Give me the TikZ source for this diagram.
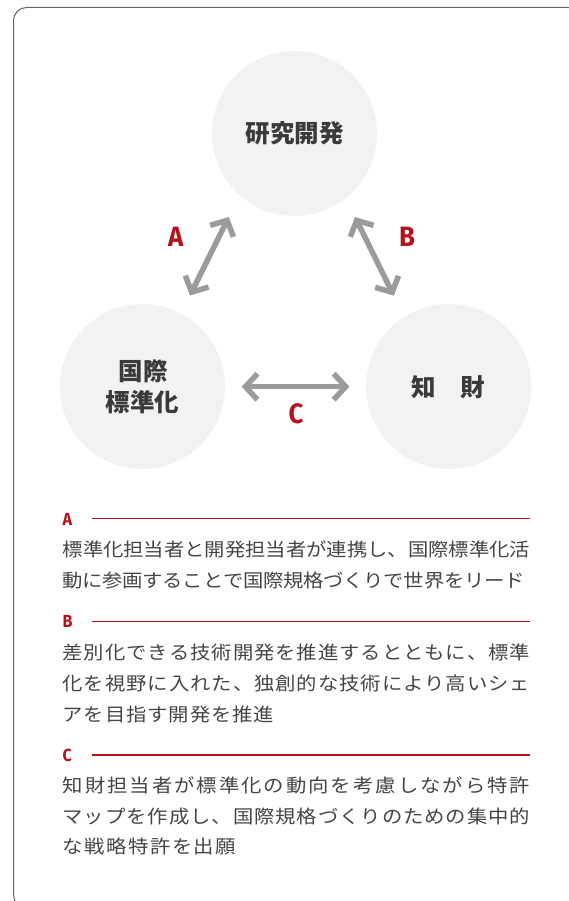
\documentclass[tikz,border=0pt]{standalone}
\usepackage{fontspec}
\usetikzlibrary{arrows.meta}
\newfontfamily\bodyfont{Noto Sans CJK JP}[FakeStretch=1.1]
\newfontfamily\circfont{Noto Sans CJK JP}
\newfontfamily\latfont{Fira Sans}[FakeStretch=0.92]
\definecolor{txtc}{HTML}{454545}
\definecolor{circtxt}{HTML}{3A3A3A}
\definecolor{fillc}{HTML}{F1F2F2}
\definecolor{arrc}{HTML}{9B9B9B}
\definecolor{accred}{HTML}{B4121D}
\definecolor{framec}{HTML}{666666}
\ExplSyntaxOn
\NewDocumentCommand\jline{m m}
  {
    \hbox_to_wd:nn {#1}
      {
        \skip_horizontal:n {0pt~plus~-1fil}
        \tl_map_inline:nn {#2} { \skip_horizontal:n {0pt~plus~1fil~minus~1pt} ##1 }
      }
  }
\ExplSyntaxOff
\begin{document}
\begin{tikzpicture}[x=1pt,y=-1pt,
  framebox/.style={draw=framec,line width=1pt,rounded corners=13pt},
  circ/.style={circle,fill=fillc,draw=none,minimum size=165pt,inner sep=0pt},
  ctext/.style={font=\circfont\bfseries\fontsize{24.5}{28}\selectfont,text=circtxt,inner sep=0pt,anchor=base},
  biglab/.style={font=\latfont\bfseries\fontsize{28}{30}\selectfont,text=accred,inner sep=0pt,anchor=base},
  smalllab/.style={font=\latfont\bfseries\fontsize{17.5}{19}\selectfont,text=accred,inner sep=0pt,anchor=base west},
  rule/.style={draw=accred,line width=1.2pt},
  bodyline/.style={font=\bodyfont\fontsize{18.5}{21}\selectfont,text=txtc,inner sep=0pt,anchor=base west},
  biarrow/.style={draw=arrc,line width=5.5pt,
    {Straight Barb[length=12pt,width=26pt]}-{Straight Barb[length=12pt,width=26pt]}}
]
\useasboundingbox (0,0) rectangle (569,901);
\clip (0,0) rectangle (569,901);
\draw[framebox] (13.5,7.5) rectangle (581,908);

% circles
\node[circ] (rd) at (294.5,133.5) {};
\node[circ] (std) at (142.4,386.5) {};
\node[circ] (ip) at (448.7,386.5) {};

\node[ctext] (rdt) at (294.5,143) {研究開発};
\node[ctext] (stdt1) at (143.4,380) {国際};
\node[ctext] (stdt2) at (142.4,411.5) {標準化};
\node[ctext] (ipt) at (448.5,396) {知　財};

% arrows
\coordinate (a1) at (190,295.5);
\coordinate (a2) at (228.8,217);
\coordinate (b1) at (355,217);
\coordinate (b2) at (393.8,295.7);
\coordinate (c1) at (241.7,386.7);
\coordinate (c2) at (349.4,386.7);
\draw[biarrow] (a1) -- (a2);
\draw[biarrow] (b1) -- (b2);
\draw[biarrow] (c1) -- (c2);

\node[biglab] (la) at (175.6,246.7) {A};
\node[biglab] (lb) at (407,246.7) {B};
\node[biglab] (lc) at (296,423.5) {C};

% descriptions
\node[smalllab] (ta) at (62.5,525) {A};
\draw[rule] (92,518.5) -- (530,518.5);
\node[bodyline] (ta1) at (62.5,556.5) {\jline{467.5pt}{標準化担当者と開発担当者が連携し、国際標準化活}};
\node[bodyline] (ta2) at (62.5,587) {\jline{462pt}{動に参画することで国際規格づくりで世界をリード}};

\node[smalllab] (tb) at (62.5,627.5) {B};
\draw[rule] (92,621.5) -- (530,621.5);
\node[bodyline] (tb1) at (62.5,659.7) {\jline{467.5pt}{差別化できる技術開発を推進するとともに、標準}};
\node[bodyline] (tb2) at (62.5,690.3) {\jline{467.5pt}{化を視野に入れた、独創的な技術により高いシェ}};
\node[bodyline] (tb3) at (62.5,721) {\jline{211.6pt}{アを目指す開発を推進}};

\node[smalllab] (tc) at (62.5,761) {C};
\draw[rule] (92,755) -- (530,755);
\node[bodyline] (tc1) at (62.5,792) {\jline{467.5pt}{知財担当者が標準化の動向を考慮しながら特許}};
\node[bodyline] (tc2) at (62.5,823.7) {\jline{467.5pt}{マップを作成し、国際規格づくりのための集中的}};
\node[bodyline] (tc3) at (62.5,853.7) {\jline{173.5pt}{な戦略特許を出願}};
\end{tikzpicture}
\end{document}
